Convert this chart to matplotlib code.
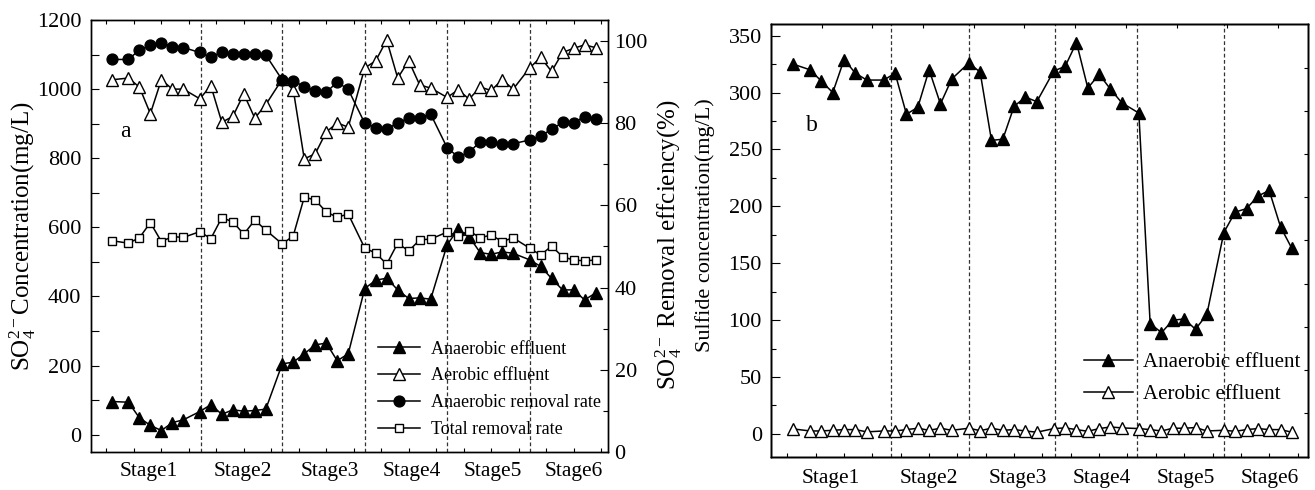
import matplotlib

matplotlib.use("Agg")
import matplotlib.pyplot as plt
from matplotlib.ticker import FixedLocator, MultipleLocator, NullFormatter

# sampling days (same for both panels)
days = [1, 4, 6, 8, 10, 12, 14, 17, 19, 21, 23, 25, 27, 29, 32, 34, 36, 38, 40, 42, 44,
        47, 49, 51, 53, 55, 57, 59, 62, 64, 66, 68, 70, 72, 74, 77, 79, 81, 83, 85, 87, 89]

stage_names = ["Stage1", "Stage2", "Stage3", "Stage4", "Stage5", "Stage6"]

# panel a: sulfate (mg/L) and removal rates (%)
a_anaerobic_eff = [96, 94, 49, 27, 12, 35, 43, 67, 87, 59, 72, 68, 70, 74, 205, 210, 234, 260, 265, 214, 234,
                   423, 447, 453, 419, 394, 396, 392, 550, 594, 573, 527, 522, 529, 525, 506, 487, 452, 419, 419, 390, 410]
a_aerobic_eff = [1027, 1032, 1006, 929, 1027, 1000, 1000, 972, 1010, 904, 921, 986, 916, 955, 1029, 998, 798, 813, 876, 902, 890,
                 1061, 1082, 1142, 1032, 1082, 1012, 1003, 976, 998, 971, 1006, 996, 1027, 1000, 1061, 1092, 1051, 1106, 1118, 1128, 1120]
a_anaerobic_rr = [95.5, 95.5, 97.8, 98.9, 99.6, 98.6, 98.4, 97.2, 96.0, 97.4, 96.8, 96.8, 96.8, 96.6, 90.5, 90.3, 88.9, 87.9, 87.5, 90.0, 88.2,
                  80.0, 78.9, 78.5, 80.1, 81.2, 81.2, 82.2, 74.0, 71.8, 72.9, 75.5, 75.4, 74.9, 75.0, 75.9, 76.9, 78.5, 80.2, 80.1, 81.6, 80.9]
a_total_rr = [51.4, 50.8, 52.1, 55.8, 51.2, 52.4, 52.2, 53.6, 51.9, 57.0, 56.0, 53.0, 56.4, 54.0, 50.6, 52.6, 62.0, 61.3, 58.4, 57.1, 57.9,
              49.6, 48.4, 45.7, 50.8, 48.9, 51.6, 51.8, 53.5, 52.6, 53.8, 52.1, 52.8, 51.2, 52.1, 49.6, 47.9, 50.1, 47.5, 46.7, 46.5, 46.7]

# panel b: sulfide (mg/L)
b_anaerobic = [325, 320, 310, 300, 329, 317, 311, 311, 317, 281, 287, 320, 290, 312, 326, 318, 258, 259, 288, 296, 292,
               319, 323, 344, 304, 316, 303, 291, 282, 97, 89, 100, 101, 92, 105, 177, 195, 198, 209, 214, 182, 163]
b_aerobic = [4.4, 2.6, 2.6, 3.2, 3.8, 3.8, 1.8, 2.6, 2.6, 3.8, 5.0, 3.2, 5.0, 3.2, 5.0, 2.9, 5.0, 3.2, 3.8, 2.6, 1.5,
             4.7, 5.3, 3.8, 2.3, 4.7, 6.1, 5.3, 4.7, 3.8, 2.6, 5.0, 5.0, 5.6, 2.6, 3.2, 2.3, 3.8, 4.7, 3.8, 3.8, 1.5]

# layout helpers (not data)
stage_label_x = [7.7, 24.9, 40.7, 55.5, 70.3, 85.1]
bounds_a = [17.2, 32, 47, 62, 77]
bounds_b = [18.2, 32, 47.2, 61.7, 77.1]

plt.rcParams["font.family"] = "Liberation Serif"
plt.rcParams["mathtext.fontset"] = "custom"
plt.rcParams["mathtext.rm"] = "Liberation Serif"
plt.rcParams["mathtext.it"] = "Liberation Serif:italic"
plt.rcParams["mathtext.bf"] = "Liberation Serif:bold"
plt.rcParams["axes.linewidth"] = 1.0

fig = plt.figure(figsize=(13.15, 4.9), dpi=100)
ax_a = fig.add_axes([0.0692, 0.0776, 0.3929, 0.8816])
ax_b = fig.add_axes([0.5863, 0.068, 0.4086, 0.8824])


def stage_xaxis(ax, xlim):
    ax.set_xlim(*xlim)
    ax.xaxis.set_major_locator(FixedLocator(stage_label_x))
    ax.set_xticklabels(stage_names)
    ax.xaxis.set_minor_locator(MultipleLocator(5))
    ax.tick_params(axis="x", which="major", length=0, pad=7, labelsize=15.5, top=True)
    ax.tick_params(axis="x", which="minor", direction="in", length=3, width=0.8, top=True)


line_kw = dict(color="black", lw=1.1, mec="black", mew=1.0)

# ---- panel a ----
ax_r = ax_a.twinx()
for x in bounds_a:
    ax_a.axvline(x, color="#333333", ls=(0, (3, 2)), lw=0.9, zorder=0)
h1, = ax_a.plot(days, a_anaerobic_eff, marker="^", ms=8.5, mfc="black", label="Anaerobic effluent", **line_kw)
h2, = ax_a.plot(days, a_aerobic_eff, marker="^", ms=8.5, mfc="white", label="Aerobic effluent", **line_kw)
h3, = ax_r.plot(days, a_anaerobic_rr, marker="o", ms=7.8, mfc="black", label="Anaerobic removal rate", **line_kw)
h4, = ax_r.plot(days, a_total_rr, marker="s", ms=6, mfc="white", label="Total removal rate", **line_kw)

stage_xaxis(ax_a, (-2.8, 91.2))
ax_a.set_ylim(-50, 1200)
ax_a.yaxis.set_major_locator(MultipleLocator(200))
ax_a.yaxis.set_minor_locator(MultipleLocator(100))
ax_a.tick_params(axis="y", which="both", direction="in", labelsize=16, pad=7, width=0.8)
ax_a.tick_params(axis="y", which="major", length=6)
ax_a.tick_params(axis="y", which="minor", length=6)
ax_a.set_ylabel(r"$\mathrm{SO_4^{2-}}$Concentration(mg/L)", fontsize=18)
ax_a.yaxis.set_label_coords(-0.103, 0.5)

ax_r.set_ylim(0, 105.1)
ax_r.yaxis.set_major_locator(MultipleLocator(20))
ax_r.yaxis.set_minor_locator(MultipleLocator(10))
ax_r.tick_params(axis="y", which="both", direction="in", labelsize=16, pad=5, width=0.8)
ax_r.tick_params(axis="y", which="major", length=6)
ax_r.tick_params(axis="y", which="minor", length=3.5)
ax_r.set_ylabel(r"$\mathrm{SO_4^{2-}}$ Removal effciency(%)", fontsize=18)
ax_r.yaxis.set_label_coords(1.088, 0.48)

ax_a.text(0.067, 0.741, "a", transform=ax_a.transAxes, fontsize=17, ha="center", va="center")
ax_r.legend(handles=[h1, h2, h3, h4], loc="upper left", bbox_to_anchor=(0.556, 0.258),
            frameon=False, fontsize=13, borderpad=0, borderaxespad=0,
            handlelength=2.3, handletextpad=0.6, labelspacing=0.55)

# ---- panel b ----
for x in bounds_b:
    ax_b.axvline(x, color="#333333", ls=(0, (3, 2)), lw=0.9, zorder=0)
g1, = ax_b.plot(days, b_anaerobic, marker="^", ms=8.5, mfc="black", label="Anaerobic effluent", **line_kw)
g2, = ax_b.plot(days, b_aerobic, marker="^", ms=8.5, mfc="white", label="Aerobic effluent", **line_kw)

stage_xaxis(ax_b, (-2.9, 91.9))
ax_b.tick_params(axis="x", which="minor", top=False)
ax_b.tick_params(axis="x", which="major", pad=9)
ax_b.set_ylim(-20, 360)
ax_b.yaxis.set_major_locator(MultipleLocator(50))
ax_b.yaxis.set_minor_locator(MultipleLocator(25))
ax_b.tick_params(axis="y", which="both", direction="in", labelsize=16, pad=6.5, width=0.8)
ax_b.tick_params(axis="y", which="major", length=6.5)
ax_b.tick_params(axis="y", which="minor", length=3.5)
ax_b.set_ylabel("Sulfide concentration(mg/L)", fontsize=16)
ax_b.yaxis.set_label_coords(-0.104, 0.536)
ax_b.text(0.077, 0.765, "b", transform=ax_b.transAxes, fontsize=17, ha="center", va="center")
ax_b.legend(handles=[g1, g2], loc="upper left", bbox_to_anchor=(0.5825, 0.240),
            frameon=False, fontsize=15, borderpad=0, borderaxespad=0,
            handlelength=2.35, handletextpad=0.5, labelspacing=0.58)

# unlabeled tick marks on the top and right frame of panel b
ax_bt = ax_b.twiny()
ax_bt.set_xlim(0, 10.6)
ax_bt.xaxis.set_major_locator(MultipleLocator(1))
ax_bt.xaxis.set_major_formatter(NullFormatter())
ax_bt.tick_params(axis="x", direction="in", length=3, width=0.8)
ax_br = ax_b.twinx()
ax_br.set_ylim(0, 1)
ax_br.yaxis.set_major_locator(FixedLocator([0.1, 0.2, 0.3, 0.4, 0.5, 0.6, 0.7, 0.8, 0.9]))
ax_br.yaxis.set_major_formatter(NullFormatter())
ax_br.tick_params(axis="y", direction="in", length=3, width=0.8)

fig.savefig("out.png", dpi=100)
